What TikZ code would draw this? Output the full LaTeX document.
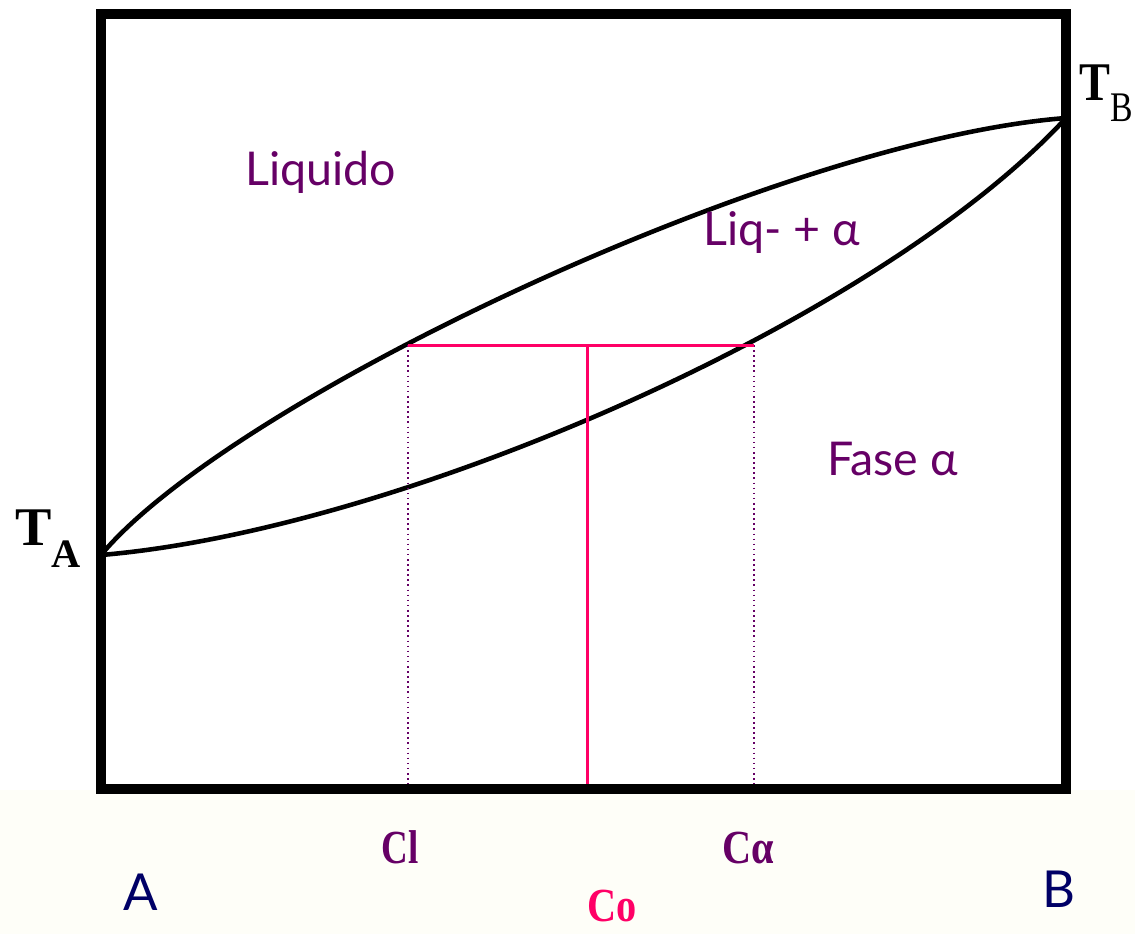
\documentclass[tikz,border=0pt]{standalone}
\usepackage{fontspec}
\setmainfont{Liberation Serif}
\newfontfamily\labelfont{Lato}
\usepackage{xcolor}
\usetikzlibrary{positioning}
\definecolor{phase}{HTML}{660066}
\definecolor{tie}{HTML}{FF0066}
\definecolor{axisname}{HTML}{000066}
\definecolor{cream}{HTML}{FEFEF8}

\begin{document}
\begin{tikzpicture}[x=0.02cm, y=-0.02cm,
  frame/.style={draw, line width=5.6pt},
  curve/.style={draw, line width=2.6pt, line cap=round},
  tieline/.style={draw=tie, line width=1.7pt},
  guide/.style={draw=phase, line width=0.9pt, dotted},
  phaselabel/.style={anchor=base west, inner sep=0pt, text=phase, font=\labelfont\fontsize{26.5}{26.5}\selectfont},
  complabel/.style={anchor=base west, inner sep=0pt, font=\bfseries\fontsize{27}{27}\selectfont},
  endlabel/.style={anchor=base west, inner sep=0pt, text=axisname, font=\labelfont\fontsize{29}{29}\selectfont}
]
% Canvas and bottom strip
\useasboundingbox (0,0) rectangle (1135,934);
\fill[white] (0,0) rectangle (1135,934);
\fill[cream] (0,790) rectangle (1135,934);

% Melting points
\coordinate (TA) at (101,555);
\coordinate (TB) at (1066,118);

% Liquidus and solidus
\path[curve] (TA) .. controls (230,400) and (780,140) .. (TB);
\path[curve] (TA) .. controls (400,530) and (880,320) .. (TB);

% Tie line and composition guides
\coordinate (cl) at (408,345);
\coordinate (ca) at (754,345);
\coordinate (co) at (587,345);
\coordinate (clb) at (408,789);
\coordinate (cab) at (754,789);
\coordinate (cob) at (587,789);
\path[guide] (cl) -- (clb);
\path[guide] (ca) -- (cab);
\path[tieline] (cl) -- (ca);
\path[tieline] (co) -- (cob);

% Frame
\draw[frame] (101,14) rectangle (1066,789);

% Phase fields
\node[phaselabel] (liq) at (245,185) {Liquido};
\node[phaselabel] (mix) at (703,245) {Liq- + α};
\node[phaselabel] (alpha) at (827,475) {Fase α};

% Temperatures
\node[anchor=base west, inner sep=0pt] (ta) at (15,545)
  {\bfseries\fontsize{31}{31}\selectfont T\raisebox{-13pt}{\fontsize{23}{23}\selectfont A}};
\node[anchor=base west, inner sep=0pt] (tb) at (1079,100)
  {\bfseries\fontsize{31}{31}\selectfont\scalebox{0.85}[1]{T}\raisebox{-12pt}{\mdseries\fontsize{24}{24}\selectfont\scalebox{0.8}[1]{B}}};

% Compositions
\node[complabel, text=phase] (cll) at (381,863) {\scalebox{0.78}[1]{Cl}};
\node[complabel, text=phase] (cal) at (722,863) {\scalebox{0.85}[1]{Cα}};
\node[complabel, text=tie] (col) at (587,921) {\scalebox{0.85}[1]{Co}};
\node[endlabel] (a) at (123,910) {A};
\node[endlabel] (b) at (1042,907) {B};
\end{tikzpicture}
\end{document}
